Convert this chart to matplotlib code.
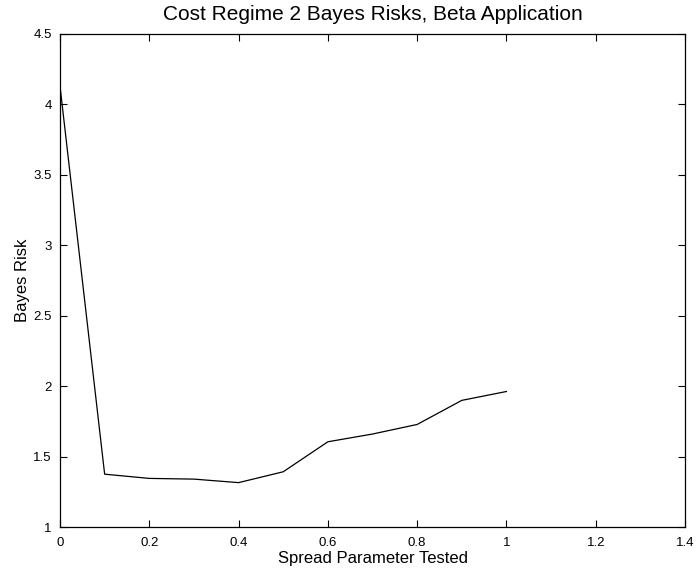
import matplotlib
matplotlib.use("Agg")
import matplotlib.pyplot as plt

spread = [0.0, 0.1, 0.2, 0.3, 0.4, 0.5, 0.6, 0.7, 0.8, 0.9, 1.0]
risk = [4.13, 1.375, 1.345, 1.34, 1.315, 1.392, 1.605, 1.66, 1.728, 1.899, 1.962]
xticks = [0, 0.2, 0.4, 0.6, 0.8, 1, 1.2, 1.4]
xticklabels = ["0", "0.2", "0.4", "0.6", "0.8", "1", "1.2", "1.4"]
yticks = [1, 1.5, 2, 2.5, 3, 3.5, 4, 4.5]
yticklabels = ["1", "1.5", "2", "2.5", "3", "3.5", "4", "4.5"]

plt.rcParams['font.family'] = ['Liberation Sans', 'DejaVu Sans']

fig = plt.figure(figsize=(6.96, 5.71), dpi=100)
ax = fig.add_axes([60/696, 1-527/571, (685-60)/696, (527-34)/571])
ax.plot(spread, risk, color='black', linewidth=0.9)
ax.set_xlim(0, 1.4)
ax.set_ylim(1, 4.5)
ax.set_xticks(xticks)
ax.set_xticklabels(xticklabels)
ax.set_yticks(yticks)
ax.set_yticklabels(yticklabels)
ax.tick_params(direction='in', top=True, right=True, labelsize=9.5, length=5, width=0.8)
ax.tick_params(axis='x', pad=7)
ax.tick_params(axis='y', pad=6)
for s in ax.spines.values():
    s.set_linewidth(0.9)
ax.set_title("Cost Regime 2 Bayes Risks, Beta Application", fontsize=15, pad=10)
ax.set_xlabel("Spread Parameter Tested", fontsize=12, labelpad=2)
ax.set_ylabel("Bayes Risk", fontsize=12, labelpad=2)
fig.savefig("out.png", dpi=100)
